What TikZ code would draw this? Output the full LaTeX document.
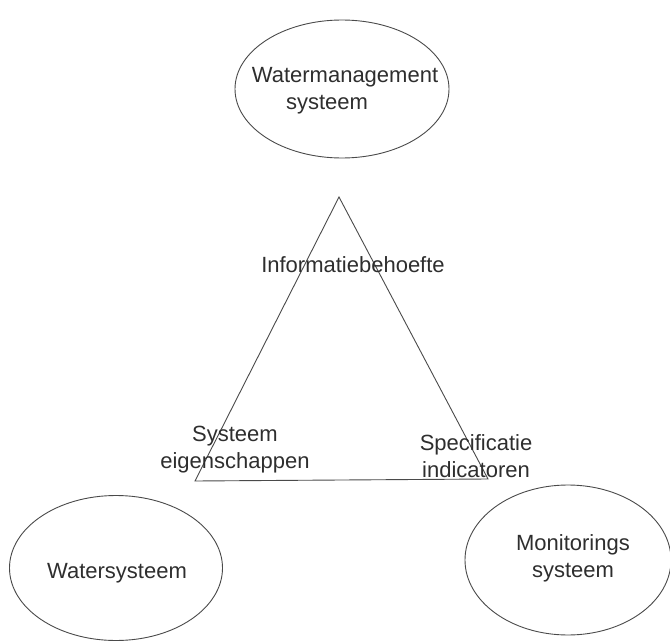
\documentclass[tikz,border=0pt]{standalone}
\usepackage{fontspec}
\setmainfont{Liberation Sans}
\usetikzlibrary{shapes.geometric}
\definecolor{linegray}{HTML}{4A4A4A}
\definecolor{textgray}{HTML}{2E2E2E}
\begin{document}
\begin{tikzpicture}[x=1pt,y=-1pt,
  oval/.style={ellipse, draw=linegray, line width=0.9pt, inner sep=0pt},
  lbl/.style={text=textgray, font=\fontsize{22}{27}\selectfont, align=center, inner sep=0pt},
  edge/.style={draw=linegray, line width=0.9pt}]
\useasboundingbox (0,0) rectangle (670,642);
% ellipses
\node[oval, minimum width=214pt, minimum height=138pt] (wm) at (342,89) {};
\node[oval, minimum width=213pt, minimum height=145pt] (ws) at (116,568) {};
\node[oval, minimum width=206pt, minimum height=150pt] (ms) at (568,560) {};
% texts in ellipses
\node[lbl] (wmtext) at (345,91) {Watermanagement\\systeem\hspace*{36pt}};
\node[lbl] (wstext) at (117,573) {Watersysteem};
\node[lbl] (mstext) at (573,558) {Monitorings\\systeem};
% triangle
\coordinate (apex) at (339,197);
\coordinate (bl) at (195,481);
\coordinate (br) at (488,479);
\draw[edge, line join=miter] (apex) -- (br) -- (bl) -- cycle;
% triangle labels
\node[lbl] (info) at (353,265) {Informatiebehoefte};
\node[lbl] (sys) at (235,450) {Systeem\\eigenschappen};
\node[lbl] (spec) at (476,456) {Specificatie\\indicatoren};
\end{tikzpicture}
\end{document}
